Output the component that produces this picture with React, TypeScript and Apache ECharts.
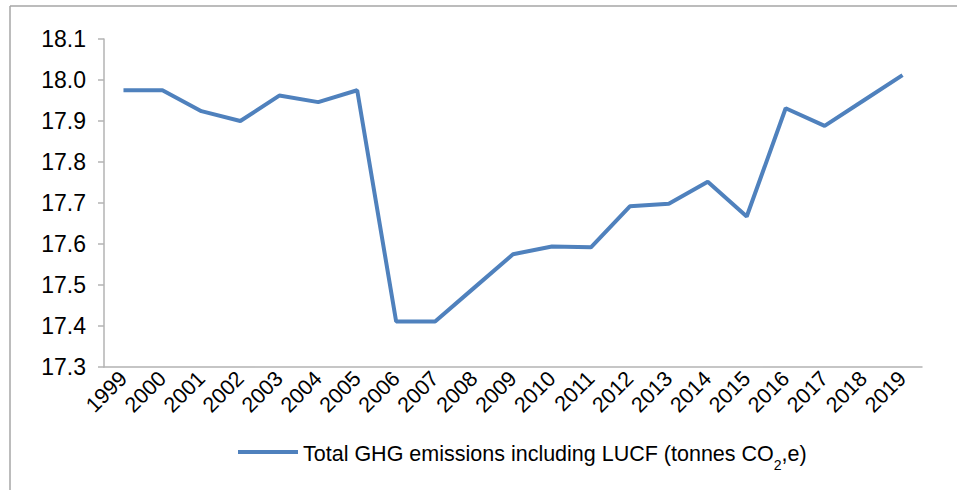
import React, { useEffect, useRef } from "react";
import * as echarts from "echarts";

const years = ["1999","2000","2001","2002","2003","2004","2005","2006","2007","2008","2009","2010","2011","2012","2013","2014","2015","2016","2017","2018","2019"];
const emissions = [17.975,17.975,17.924,17.900,17.962,17.946,17.975,17.411,17.411,17.493,17.575,17.594,17.592,17.692,17.698,17.752,17.667,17.931,17.888,17.950,18.012];
const seriesName = "Total GHG emissions including LUCF (tonnes CO2,e)";

export default function App() {
  const ref = useRef<HTMLDivElement>(null);
  useEffect(() => {
    if (!ref.current) return;
    const chart = echarts.init(ref.current, undefined, { renderer: "svg" });
    const ff = "Liberation Sans, Arial, sans-serif";
    chart.setOption({
      animation: false,
      backgroundColor: "#ffffff",
      textStyle: { fontFamily: ff },
      graphic: [
        { type: "line", shape: { x1: 10, y1: 6, x2: 957, y2: 6 }, style: { stroke: "#a6a6a6", lineWidth: 1.5 } },
        { type: "line", shape: { x1: 10, y1: 6, x2: 10, y2: 490 }, style: { stroke: "#a6a6a6", lineWidth: 1.5 } },
      ],
      grid: { left: 104, right: 35, top: 39, bottom: 123, containLabel: false },
      xAxis: {
        type: "category",
        data: years,
        boundaryGap: true,
        axisLine: { lineStyle: { color: "#b3b3b3", width: 1.5 } },
        axisTick: { show: false },
        axisLabel: { rotate: 45, fontSize: 21.5, color: "#000", margin: 8, interval: 0, fontFamily: ff },
      },
      yAxis: {
        type: "value",
        min: 17.3,
        max: 18.1,
        interval: 0.1,
        axisLine: { show: true, lineStyle: { color: "#b3b3b3", width: 1.5 } },
        axisTick: { show: true, length: 6, lineStyle: { color: "#b3b3b3", width: 1.5 } },
        splitLine: { show: false },
        axisLabel: { fontSize: 23, color: "#000", margin: 18, formatter: (v: number) => v.toFixed(1), fontFamily: ff },
      },
      legend: {
        bottom: 13,
        left: 233,
        itemWidth: 60,
        itemHeight: 4,
        itemGap: 10,
        icon: "rect",
        data: [seriesName],
        formatter: () => "{a|Total GHG emissions including LUCF (tonnes CO}{s|2}{a|,e)}",
        textStyle: {
          rich: {
            a: { fontSize: 21.5, color: "#000", fontFamily: ff, verticalAlign: "bottom", lineHeight: 26 },
            s: { fontSize: 14, color: "#000", fontFamily: ff, verticalAlign: "bottom", lineHeight: 19, padding: [0, 0, -7, 0] },
          },
        },
      },
      series: [
        {
          name: seriesName,
          type: "line",
          data: emissions,
          symbol: "none",
          lineStyle: { color: "#4f81bd", width: 4 },
          itemStyle: { color: "#4f81bd" },
        },
      ],
    });
    return () => chart.dispose();
  }, []);
  return <div ref={ref} style={{ position: "absolute", left: 0, top: 0, width: 957, height: 490 }} />;
}
